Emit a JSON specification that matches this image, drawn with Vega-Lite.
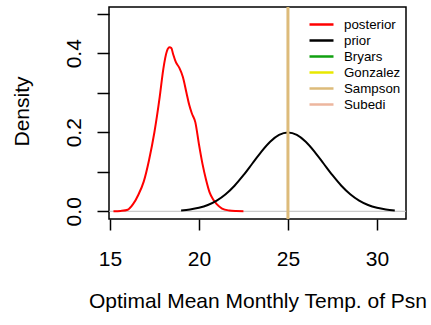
{
  "$schema": "https://vega.github.io/schema/vega-lite/v6.json",
  "autosize": {"type": "none"},
  "width": 297,
  "height": 212,
  "padding": {"left": 109, "top": 7, "right": 25, "bottom": 106},
  "background": "white",
  "config": {
    "font": "Liberation Sans",
    "view": {"stroke": "black", "strokeWidth": 1.5},
    "axis": {"grid": false, "domain": false, "labelFlush": false, "tickColor": "black", "tickWidth": 1.5, "labelColor": "black", "titleColor": "black", "labelFont": "Liberation Sans", "titleFont": "Liberation Sans", "titleFontWeight": "normal"}
  },
  "datasets": {
    "curves": [
      {"series": "posterior", "x": 15.2, "y": 0},
      {"series": "posterior", "x": 15.6, "y": 0.001},
      {"series": "posterior", "x": 16.0, "y": 0.004},
      {"series": "posterior", "x": 16.3, "y": 0.018},
      {"series": "posterior", "x": 16.6, "y": 0.042},
      {"series": "posterior", "x": 16.9, "y": 0.075},
      {"series": "posterior", "x": 17.2, "y": 0.13},
      {"series": "posterior", "x": 17.5, "y": 0.2},
      {"series": "posterior", "x": 17.8, "y": 0.29},
      {"series": "posterior", "x": 18.0, "y": 0.36},
      {"series": "posterior", "x": 18.2, "y": 0.405},
      {"series": "posterior", "x": 18.35, "y": 0.415},
      {"series": "posterior", "x": 18.45, "y": 0.413},
      {"series": "posterior", "x": 18.55, "y": 0.398},
      {"series": "posterior", "x": 18.7, "y": 0.378},
      {"series": "posterior", "x": 18.9, "y": 0.363},
      {"series": "posterior", "x": 19.1, "y": 0.34},
      {"series": "posterior", "x": 19.3, "y": 0.3},
      {"series": "posterior", "x": 19.45, "y": 0.27},
      {"series": "posterior", "x": 19.6, "y": 0.248},
      {"series": "posterior", "x": 19.8, "y": 0.225},
      {"series": "posterior", "x": 20.0, "y": 0.17},
      {"series": "posterior", "x": 20.2, "y": 0.12},
      {"series": "posterior", "x": 20.4, "y": 0.08},
      {"series": "posterior", "x": 20.6, "y": 0.048},
      {"series": "posterior", "x": 20.8, "y": 0.03},
      {"series": "posterior", "x": 21.0, "y": 0.018},
      {"series": "posterior", "x": 21.3, "y": 0.007},
      {"series": "posterior", "x": 21.7, "y": 0.002},
      {"series": "posterior", "x": 22.1, "y": 0.0005},
      {"series": "posterior", "x": 22.5, "y": 0},
      {"series": "prior", "x": 19.0, "y": 0.00222},
      {"series": "prior", "x": 19.5, "y": 0.00455},
      {"series": "prior", "x": 20.0, "y": 0.00876},
      {"series": "prior", "x": 20.5, "y": 0.01587},
      {"series": "prior", "x": 21.0, "y": 0.027},
      {"series": "prior", "x": 21.5, "y": 0.04314},
      {"series": "prior", "x": 22.0, "y": 0.06476},
      {"series": "prior", "x": 22.5, "y": 0.09132},
      {"series": "prior", "x": 23.0, "y": 0.12099},
      {"series": "prior", "x": 23.5, "y": 0.15057},
      {"series": "prior", "x": 24.0, "y": 0.17603},
      {"series": "prior", "x": 24.5, "y": 0.19333},
      {"series": "prior", "x": 25.0, "y": 0.19947},
      {"series": "prior", "x": 25.5, "y": 0.19333},
      {"series": "prior", "x": 26.0, "y": 0.17603},
      {"series": "prior", "x": 26.5, "y": 0.15057},
      {"series": "prior", "x": 27.0, "y": 0.12099},
      {"series": "prior", "x": 27.5, "y": 0.09132},
      {"series": "prior", "x": 28.0, "y": 0.06476},
      {"series": "prior", "x": 28.5, "y": 0.04314},
      {"series": "prior", "x": 29.0, "y": 0.027},
      {"series": "prior", "x": 29.5, "y": 0.01587},
      {"series": "prior", "x": 30.0, "y": 0.00876},
      {"series": "prior", "x": 30.5, "y": 0.00455},
      {"series": "prior", "x": 31.0, "y": 0.00222}
    ],
    "zero": [{"y": 0}],
    "vlines": [{"x": 25, "series": "Sampson"}]
  },
  "layer": [
    {
      "data": {"name": "zero"},
      "mark": {"type": "rule", "color": "#BEBEBE", "strokeWidth": 1},
      "encoding": {
        "y": {"field": "y", "type": "quantitative", "scale": {"domain": [-0.0195, 0.517], "nice": false, "zero": false}}
      }
    },
    {
      "data": {"name": "curves"},
      "mark": {"type": "line", "strokeWidth": 2, "interpolate": "monotone"},
      "encoding": {
        "x": {"field": "x", "type": "quantitative",
          "scale": {"domain": [14.95, 31.63], "nice": false, "zero": false},
          "axis": {"values": [15, 20, 25, 30], "tickSize": 11, "labelFontSize": 21, "labelBaseline": "alphabetic", "labelPadding": 35,
                   "title": "Optimal Mean Monthly Temp. of Psn", "titleFontSize": 21, "titleBaseline": "alphabetic", "titleY": 88, "titleAnchor": "middle"}},
        "y": {"field": "y", "type": "quantitative",
          "scale": {"domain": [-0.0195, 0.517], "nice": false, "zero": false},
          "axis": {"values": [0, 0.1, 0.2, 0.3, 0.4, 0.5], "format": ".1f",
                   "labelExpr": "indexof(['0.0','0.2','0.4'], datum.label) >= 0 ? datum.label : ''",
                   "tickSize": 12, "labelFontSize": 21, "labelAngle": -90, "labelAlign": "center", "labelBaseline": "alphabetic", "labelPadding": 17,
                   "title": "Density", "titleFontSize": 21, "titleAngle": -90, "titleAlign": "center", "titleBaseline": "alphabetic", "titleX": -81, "titleY": 104}},
        "color": {"field": "series", "type": "nominal",
          "scale": {"domain": ["posterior", "prior", "Bryars", "Gonzalez", "Sampson", "Subedi"],
                    "range": ["#FF0000", "#000000", "#10A010", "#E8E800", "#DDBB7A", "#EDB69E"]},
          "legend": {"orient": "none", "legendX": 203.5, "legendY": 8.5, "title": null, "padding": 0,
                     "symbolType": "M-1.6,0H1.6", "symbolSize": 225, "symbolStrokeWidth": 2.5, "symbolFillColor": "transparent",
                     "labelFontSize": 13.3, "labelFont": "Liberation Sans", "labelColor": "black", "labelOffset": 13.5, "rowPadding": -1}}
      }
    },
    {
      "data": {"name": "vlines"},
      "mark": {"type": "rule", "strokeWidth": 3},
      "encoding": {
        "x": {"field": "x", "type": "quantitative"},
        "color": {"field": "series", "type": "nominal"}
      }
    }
  ]
}
